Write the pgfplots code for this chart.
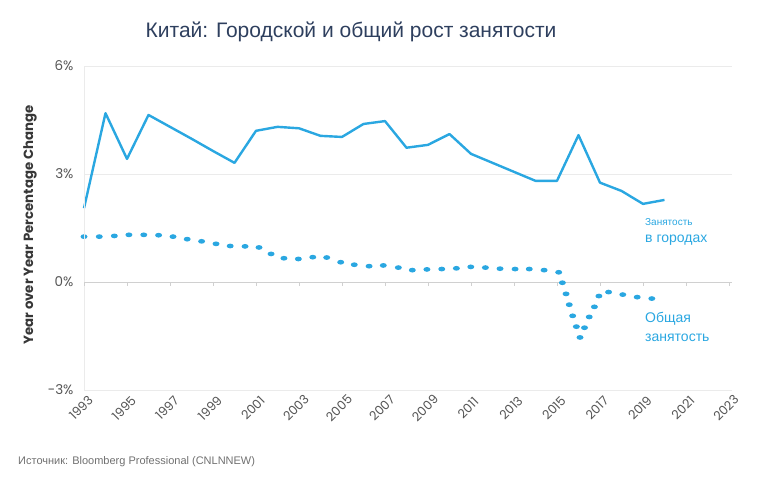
\documentclass[border=0pt]{standalone}
\usepackage{fontspec}
\setmainfont{Liberation Sans}
\newfontfamily\pop{Poppins}
\usepackage{pgfplots}
\pgfplotsset{compat=1.18}
\definecolor{lineblue}{RGB}{42,167,225}
\definecolor{gridgray}{RGB}{235,235,235}
\definecolor{zerogray}{RGB}{208,208,208}
\definecolor{ticktext}{RGB}{85,85,85}
\definecolor{titlecol}{RGB}{46,63,94}
\definecolor{srccol}{RGB}{112,112,112}
\definecolor{ylabcol}{RGB}{55,55,55}

\pgfdeclareplotmark{oval}{%
  \pgfpathellipse{\pgfpointorigin}{\pgfqpoint{3.5pt}{0pt}}{\pgfqpoint{0pt}{2.4pt}}%
  \pgfusepathqfill}

\pgfplotstableread{
year val
1993 2.05
1994 4.69
1995 3.42
1996 4.64
1997 4.31
1998 3.98
1999 3.64
2000 3.31
2001 4.20
2002 4.31
2003 4.27
2004 4.06
2005 4.03
2006 4.39
2007 4.47
2008 3.73
2009 3.81
2010 4.11
2011 3.56
2012 3.31
2013 3.06
2014 2.81
2015 2.81
2016 4.08
2017 2.76
2018 2.53
2019 2.17
2020 2.28
}\urban

\pgfplotstableread{
year val
1993.00 1.26
1993.71 1.26
1994.41 1.28
1995.09 1.31
1995.78 1.31
1996.47 1.30
1997.14 1.26
1997.80 1.19
1998.47 1.13
1999.14 1.06
1999.80 1.00
2000.49 0.99
2001.14 0.96
2001.70 0.78
2002.30 0.66
2002.97 0.64
2003.64 0.69
2004.29 0.68
2004.94 0.55
2005.57 0.48
2006.26 0.44
2006.92 0.46
2007.62 0.40
2008.27 0.33
2008.95 0.35
2009.64 0.36
2010.32 0.38
2010.99 0.42
2011.67 0.40
2012.35 0.37
2013.05 0.36
2013.71 0.36
2014.40 0.33
2015.08 0.27
2015.25 -0.02
2015.42 -0.33
2015.57 -0.63
2015.73 -0.94
2015.90 -1.24
2016.07 -1.54
2016.28 -1.27
2016.50 -0.97
2016.74 -0.69
2016.95 -0.39
2017.40 -0.28
2018.06 -0.35
2018.73 -0.42
2019.41 -0.46
}\total

\begin{document}
\begin{tikzpicture}[x=1pt,y=1pt]
\path[use as bounding box] (0,0) rectangle (774,480);
\begin{axis}[
  at={(84pt,90pt)}, anchor=south west,
  width=648pt, height=324pt, scale only axis,
  xmin=1993, xmax=2023.14, ymin=-3, ymax=6,
  axis line style={draw=none},
  major tick length=0pt,
  ymajorgrids, grid style={draw=gridgray, line width=0.9pt},
  extra y ticks={0}, extra y tick labels={},
  extra y tick style={grid style={draw=zerogray, line width=0.9pt}},
  ytick={-3,0,3,6},
  yticklabels={-3\%,0\%,3\%,6\%},
  yticklabel style={font=\pop\fontsize{13.5}{15}\selectfont, text=ticktext, anchor=east, xshift=-7pt},
  xtick={1993,1995,...,2023},
  xticklabels={1993,1995,1997,1999,2001,2003,2005,2007,2009,2011,2013,2015,2017,2019,2021,2023},
  xticklabel style={font=\pop\fontsize{12.5}{14}\selectfont, text=ticktext, anchor=center, xshift=-3pt, yshift=-18pt, rotate=45},
  clip=false,
  after end axis/.code={
    \draw[gridgray, line width=0.9pt] (rel axis cs:0,0) -- (rel axis cs:0,1);
    \foreach \yr in {1993,1995,...,2023} {\draw[zerogray, line width=0.9pt] (axis cs:\yr,0) -- ++(0,-4pt);}
  },
]
\addplot[lineblue, line width=2.4pt, line join=round] table[x=year,y=val]{\urban};
\addplot[lineblue, only marks, mark=oval, mark options={fill=lineblue}] table[x=year,y=val]{\total};
\end{axis}
\node[font=\fontsize{21}{25}\selectfont, text=titlecol] at (351,448) {Китай: Городской и общий рост занятости};
\node[rotate=90, font=\pop\bfseries\fontsize{13.3}{15}\selectfont, text=ylabcol] at (30,255) {Year over Year Percentage Change};
\node[anchor=west, inner sep=0, font=\fontsize{10}{12}\selectfont, text=lineblue] at (645,258) {Занятость};
\node[anchor=west, inner sep=0, font=\fontsize{14}{16}\selectfont, text=lineblue] at (645,240.3) {в городах};
\node[anchor=west, inner sep=0, font=\fontsize{14}{16}\selectfont, text=lineblue] at (645,161) {Общая};
\node[anchor=west, inner sep=0, font=\fontsize{14}{16}\selectfont, text=lineblue] at (645,142.3) {занятость};
\node[anchor=west, inner sep=0, font=\fontsize{11}{13}\selectfont, text=srccol] at (18,18) {Источник: Bloomberg Professional (CNLNNEW)};
\end{tikzpicture}
\end{document}
